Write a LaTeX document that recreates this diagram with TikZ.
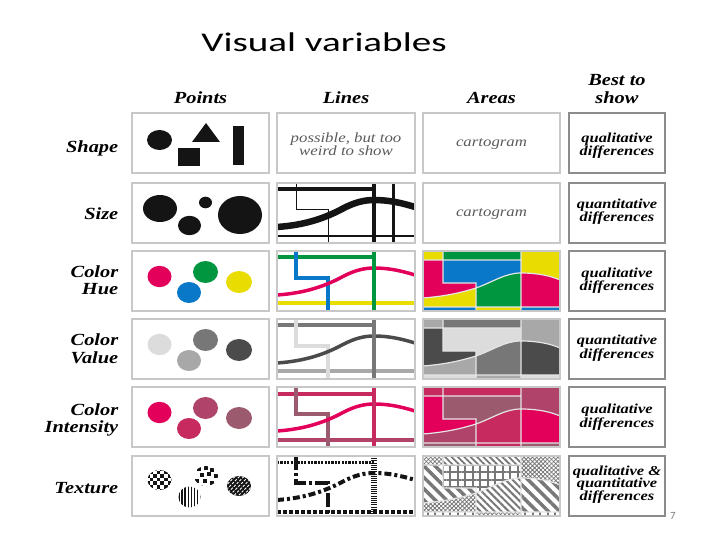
\documentclass[tikz,border=0pt]{standalone}
\usepackage{fontspec}
\setmainfont{Liberation Serif}
\newfontfamily\titlefont{Carlito}
\usetikzlibrary{patterns,patterns.meta}
\definecolor{cellgray}{HTML}{C8C8C8}
\definecolor{bestgray}{HTML}{8C8C8C}
\definecolor{ink}{HTML}{141414}
\definecolor{hmag}{HTML}{E2005A}
\definecolor{hgrn}{HTML}{00963F}
\definecolor{hblu}{HTML}{0A78C8}
\definecolor{hyel}{HTML}{E8DC00}
\definecolor{vA}{HTML}{DCDCDC}
\definecolor{vB}{HTML}{A8A8A8}
\definecolor{vC}{HTML}{777777}
\definecolor{vD}{HTML}{4B4B4B}
\definecolor{iA}{HTML}{E2005A}
\definecolor{iB}{HTML}{C62A5E}
\definecolor{iC}{HTML}{B0436A}
\definecolor{iD}{HTML}{9C5A6E}
\definecolor{txtgray}{HTML}{5A5A5A}
\newcommand{\curvepath}{(0,44) .. controls (30,42) and (50,34) .. (65,26) .. controls (78,19) and (88,17) .. (97,17) .. controls (112,17) and (125,20) .. (138,24)}
\newcommand{\steppath}{(19,0) -- (19,27) -- (51,27) -- (51,60)}
\newcommand{\areamap}[8]{%
 \fill[#1] (0,0) rectangle (20,9);
 \fill[#2] (20,0) rectangle (98,9);
 \fill[#3] (98,0) -- (137,0) -- (137,29) .. controls (128,25) and (115,22) .. (98,22) -- cycle;
 \fill[#4] (0,9) -- (20,9) -- (20,32) -- (53,32) -- (53,37) .. controls (40,41) and (25,45) .. (0,47) -- cycle;
 \fill[#5] (20,9) -- (98,9) -- (98,22) .. controls (82,22) and (70,31) .. (53,37) -- (53,32) -- (20,32) -- cycle;
 \fill[#6] (53,37) .. controls (70,31) and (82,22) .. (98,22) -- (98,56) -- (53,56) -- cycle;
 \fill[#7] (0,47) .. controls (25,45) and (40,41) .. (53,37) -- (53,56) -- (0,56) -- cycle;
 \fill[#8] (98,22) .. controls (115,22) and (128,25) .. (137,29) -- (137,56) -- (98,56) -- cycle;
 \fill[#5] (0,56) rectangle (53,60);
 \fill[#1] (53,56) rectangle (98,60);
 \fill[#5] (98,56) rectangle (137,60);
 \draw[mapline] (20,0) -- (20,32) -- (53,32) -- (53,60) (0,9) -- (98,9) (98,0) -- (98,60) (0,56) -- (137,56)
   (0,47) .. controls (25,45) and (40,41) .. (53,37) .. controls (70,31) and (82,22) .. (98,22) .. controls (115,22) and (128,25) .. (137,29);
}
\tikzset{
 cellbox/.style={draw=cellgray, line width=1.8pt},
 bestbox/.style={draw=bestgray, line width=1.8pt},
 mapline/.style={draw=white!80!gray, line width=1.2pt},
 hdr/.style={font=\fontsize{17}{17}\selectfont\bfseries\itshape, xscale=1.2, inner sep=0, anchor=base},
 rowlab/.style={hdr, anchor=base east},
 besttxt/.style={font=\fontsize{13.7}{14}\selectfont\bfseries\itshape, xscale=1.2, inner sep=0, anchor=base},
 celltxt/.style={font=\fontsize{14}{14}\selectfont\itshape, text=txtgray, xscale=1.2, inner sep=0, anchor=base},
}
\begin{document}
\begin{tikzpicture}[x=1pt,y=-1pt]
\useasboundingbox (0,0) rectangle (720,540);
% title
\node[anchor=base, font=\titlefont\fontsize{27}{27}\selectfont, xscale=1.45, inner sep=0] (title) at (324,52) {Visual variables};
% headers
\node[hdr] (hPoints) at (200.5,104) {Points};
\node[hdr] (hLines) at (346,104) {Lines};
\node[hdr] (hAreas) at (491.5,104) {Areas};
\node[hdr] (hBest1) at (617,86) {Best to};
\node[hdr] (hBest2) at (617,104) {show};
% row labels
\node[rowlab] (lShape) at (118.5,153) {Shape};
\node[rowlab] (lSize) at (118.5,220) {Size};
\node[rowlab] (lHue1) at (118.5,277) {Color};
\node[rowlab] (lHue2) at (118.5,294) {Hue};
\node[rowlab] (lVal1) at (118.5,345) {Color};
\node[rowlab] (lVal2) at (118.5,363) {Value};
\node[rowlab] (lInt1) at (118.5,415) {Color};
\node[rowlab] (lInt2) at (118.5,432) {Intensity};
\node[rowlab] (lTex) at (118.5,493) {Texture};

% ---------- Points column ----------
\fill[ink] (159.5,140) ellipse [x radius=12.5, y radius=10];
\fill[ink] (178,148) rectangle (200,166);
\fill[ink] (206,123) -- (220,142) -- (192,142) -- cycle;
\fill[ink] (233,126) rectangle (244,165);

\fill[ink] (160,208.5) ellipse [x radius=17, y radius=13.5];
\fill[ink] (189.5,225.5) ellipse [x radius=11.5, y radius=9.7];
\fill[ink] (205.5,202.5) ellipse [x radius=6.5, y radius=5.8];
\fill[ink] (240,215) ellipse [x radius=22, y radius=19];

\fill[hmag] (159.5,276.5) ellipse [x radius=12, y radius=10.7];
\fill[hgrn] (205.5,272) ellipse [x radius=12.5, y radius=11];
\fill[hblu] (189,292.5) ellipse [x radius=12, y radius=10.5];
\fill[hyel] (239,282) ellipse [x radius=13, y radius=11];

\fill[vA] (159.5,344.5) ellipse [x radius=12, y radius=10.7];
\fill[vC] (205.5,340) ellipse [x radius=12.5, y radius=11];
\fill[vB] (189,360.5) ellipse [x radius=12, y radius=10.5];
\fill[vD] (239,350) ellipse [x radius=13, y radius=11];

\fill[iA] (159.5,412.5) ellipse [x radius=12, y radius=10.7];
\fill[iC] (205.5,408) ellipse [x radius=12.5, y radius=11];
\fill[iB] (189,428.5) ellipse [x radius=12, y radius=10.5];
\fill[iD] (239,418) ellipse [x radius=13, y radius=11];

% texture points
\begin{scope}
 \clip (159.5,480) ellipse [x radius=12, y radius=10];
 \foreach \i in {0,...,7}{\foreach \j in {0,...,6}{%
   \pgfmathtruncatemacro\k{\i+\j}
   \ifodd\k\else\fill[ink] (146+\i*3.6,467+\j*3.6) rectangle ++(3.6,3.6);\fi}}
\end{scope}
\begin{scope}
 \clip (206,476) ellipse [x radius=12, y radius=10];
 \foreach \p/\q in {197/467,204/466,210/468,200/473,207/472,214/474,195/479,203/479,210/481,199/485,207/486,214/483}
   \fill[ink] (\p,\q) rectangle ++(3.6,3.6);
\end{scope}
\begin{scope}
 \clip (189.5,497) ellipse [x radius=11, y radius=10.5];
 \foreach \i in {0,...,7} \draw[ink, line width=1.6pt] (179+\i*3.1,485) -- ++(0,25);
\end{scope}
\begin{scope}
 \fill[ink] (239,486) ellipse [x radius=12, y radius=10];
 \clip (239,486) ellipse [x radius=12, y radius=10];
 \foreach \i in {-3,...,3} \draw[white, line width=0.9pt, dash pattern=on 2.5pt off 1.5pt] (227+\i*4.5,498) -- ++(24,-24);
\end{scope}

% ---------- Lines column ----------
\node[celltxt] (poss1) at (346,143) {possible, but too};
\node[celltxt] (poss2) at (346,156) {weird to show};

\begin{scope}[shift={(277,183)}]
 \clip (0,0) rectangle (138,60);
 \draw[ink, line width=4pt] (0,6) -- (97,6);
 \draw[ink, line width=1pt] \steppath;
 \draw[ink, line width=2.5pt] (0,53) -- (138,53);
 \draw[ink, line width=6.5pt] \curvepath;
 \draw[ink, line width=4.5pt] (97,0) -- (97,60);
 \draw[ink, line width=3pt] (116,0) -- (116,60);
\end{scope}
\begin{scope}[shift={(277,251)}]
 \clip (0,0) rectangle (138,60);
 \draw[hyel, line width=4pt] (0,52) -- (138,52);
 \draw[hgrn, line width=3.5pt] (0,6) -- (97,6);
 \draw[hblu, line width=3.5pt] \steppath;
 \draw[hmag, line width=3.5pt] \curvepath;
 \draw[hgrn, line width=4pt] (97,0) -- (97,60);
\end{scope}
\begin{scope}[shift={(277,319)}]
 \clip (0,0) rectangle (138,60);
 \draw[vB, line width=4pt] (0,52) -- (138,52);
 \draw[vC, line width=3.5pt] (0,6) -- (97,6);
 \draw[vA, line width=3.5pt] \steppath;
 \draw[vD, line width=3.5pt] \curvepath;
 \draw[vC, line width=4pt] (97,0) -- (97,60);
\end{scope}
\begin{scope}[shift={(277,387)}]
 \clip (0,0) rectangle (138,60);
 \draw[iC, line width=3.5pt] (0,53) -- (138,53);
 \draw[iB, line width=3.5pt] (0,7) -- (97,7);
 \draw[iD, line width=3.5pt] \steppath;
 \draw[iA, line width=3.5pt] \curvepath;
 \draw[iB, line width=4pt] (97,0) -- (97,60);
\end{scope}
\begin{scope}[shift={(277,456)}]
 \clip (0,0) rectangle (138,60);
 \draw[ink, line width=3pt, dash pattern=on 2.2pt off 1.2pt] (0,6) -- (97,6);
 \draw[ink, line width=3.5pt, dash pattern=on 14pt off 3pt on 3pt off 3pt] \steppath;
 \draw[ink, line width=3.5pt, dash pattern=on 3.5pt off 2.5pt] (0,56) -- (138,56);
 \draw[ink, line width=4pt, dash pattern=on 7pt off 3pt on 3pt off 3pt] \curvepath;
 \draw[ink, line width=6pt, dash pattern=on 1pt off 1.2pt] (97,0) -- (97,60);
\end{scope}

% ---------- Areas column ----------
\node[celltxt] (carto1) at (491.5,147) {cartogram};
\node[celltxt] (carto2) at (491.5,216) {cartogram};
\begin{scope}[shift={(423,251)}]
 \areamap{hyel}{hgrn}{hyel}{hmag}{hblu}{hgrn}{hyel}{hmag}
\end{scope}
\begin{scope}[shift={(423,319)}]
 \areamap{vB}{vC}{vB}{vD}{vA}{vC}{vB}{vD}
\end{scope}
\begin{scope}[shift={(423,387)}]
 \areamap{iB}{iB}{iC}{iA}{iD}{iB}{iC}{iA}
\end{scope}
\begin{scope}[shift={(423,456)}]
 \areamap{pattern={Hatch[angle=45,distance=3pt,line width=0.8pt]}, pattern color=vC}%
  {pattern={Lines[angle=-45,distance=4.5pt,line width=1.8pt]}, pattern color=vC}%
  {pattern={Hatch[angle=45,distance=3pt,line width=0.8pt]}, pattern color=vC}%
  {pattern={Lines[angle=-45,distance=8pt,line width=3.5pt]}, pattern color=vC}%
  {pattern={Hatch[angle=0,distance=7.5pt,line width=2pt]}, pattern color=vC}%
  {pattern={Lines[angle=-45,distance=5pt,line width=2pt]}, pattern color=vC}%
  {pattern={Hatch[angle=45,distance=3pt,line width=0.8pt]}, pattern color=vC}%
  {pattern={Lines[angle=-45,distance=8pt,line width=3.5pt]}, pattern color=vC}
\end{scope}

% ---------- Best to show column ----------
\node[besttxt] (b1a) at (617,143) {qualitative};
\node[besttxt] (b1b) at (617,156) {differences};
\node[besttxt] (b2a) at (617,209) {quantitative};
\node[besttxt] (b2b) at (617,222) {differences};
\node[besttxt] (b3a) at (617,277) {qualitative};
\node[besttxt] (b3b) at (617,290) {differences};
\node[besttxt] (b4a) at (617,344) {quantitative};
\node[besttxt] (b4b) at (617,358) {differences};
\node[besttxt] (b5a) at (617,413) {qualitative};
\node[besttxt] (b5b) at (617,427) {differences};
\node[besttxt] (b6a) at (617,475) {qualitative \&};
\node[besttxt] (b6b) at (617,487.5) {quantitative};
\node[besttxt] (b6c) at (617,500) {differences};

% ---------- cell borders ----------
\foreach \y in {113,183,251,319,387,456}{
 \draw[cellbox] (132,\y) rectangle (269,\y+60);
 \draw[cellbox] (277,\y) rectangle (415,\y+60);
 \draw[cellbox] (423,\y) rectangle (560,\y+60);
 \draw[bestbox] (569,\y) rectangle (665,\y+60);
}
% page number
\node[anchor=base, font=\titlefont\fontsize{11}{11}\selectfont, text=gray, inner sep=0] (pnum) at (673,519) {7};
\end{tikzpicture}
\end{document}
